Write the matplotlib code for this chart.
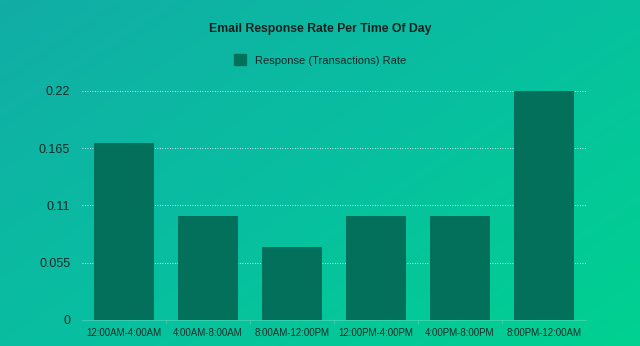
import numpy as np
import matplotlib.pyplot as plt
from matplotlib.colors import LinearSegmentedColormap
from matplotlib.patches import Patch

plt.rcParams['font.family'] = ['Liberation Sans', 'DejaVu Sans']

slots = ["12:00AM-4:00AM", "4:00AM-8:00AM", "8:00AM-12:00PM",
         "12:00PM-4:00PM", "4:00PM-8:00PM", "8:00PM-12:00AM"]
rates = [0.17, 0.10, 0.07, 0.10, 0.10, 0.22]
yticks = [0, 0.055, 0.11, 0.165, 0.22]
ytick_labels = ["0", "0.055", "0.11", "0.165", "0.22"]

fig = plt.figure(figsize=(6.4, 3.46), dpi=100)

# diagonal gradient background
bg = fig.add_axes([0, 0, 1, 1], zorder=-1)
gx, gy = np.meshgrid(np.linspace(0, 1, 320), np.linspace(0, 1, 173))
grad = 0.55 * gx + 0.45 * gy
cmap = LinearSegmentedColormap.from_list("bg", ["#12ada6", "#08bfa0", "#00d190"])
bg.imshow(grad, cmap=cmap, aspect="auto", extent=[0, 1, 0, 1], origin="upper")
bg.axis("off")

ax = fig.add_axes([82 / 640, 26 / 346, 504 / 640, 229 / 346])
ax.patch.set_alpha(0)
x = np.arange(len(slots))
ax.bar(x, rates, width=0.71, color="#03705b", zorder=2)
ax.set_xlim(-0.5, len(slots) - 0.5)
ax.set_ylim(0, 0.22)
ax.set_yticks(yticks)
ax.set_yticklabels(ytick_labels, fontsize=9, color="#1a2a28")
ax.set_xticks(x)
ax.set_xticklabels(slots, fontsize=7, color="#1a2a28")
ax.set_xticks(np.arange(0.5, len(slots) - 1, 1), minor=True)
ax.tick_params(axis="y", length=0, pad=8.5)
ax.tick_params(axis="x", which="major", length=0, pad=6)
ax.tick_params(axis="x", which="minor", length=3, color=(1, 1, 1, 0.2))
for s in ["top", "right", "left"]:
    ax.spines[s].set_visible(False)
ax.spines["bottom"].set_color((1, 1, 1, 0.2))
ax.grid(axis="y", linestyle=(0, (1, 2)), color=(1, 1, 1, 0.25), linewidth=0.6, zorder=0)

fig.text(0.5, 1 - 29 / 346, "Email Response Rate Per Time Of Day", ha="center", va="center",
         fontsize=8.8, fontweight="bold", color="#16201e")
fig.legend(handles=[Patch(color="#03705b", label="Response (Transactions) Rate")],
           loc="center", bbox_to_anchor=(0.5, 1 - 60 / 346), frameon=False,
           fontsize=8, handlelength=1.1, handleheight=1.1, handletextpad=0.8,
           labelcolor="#1a2a28")

fig.savefig("out.png", dpi=100)
